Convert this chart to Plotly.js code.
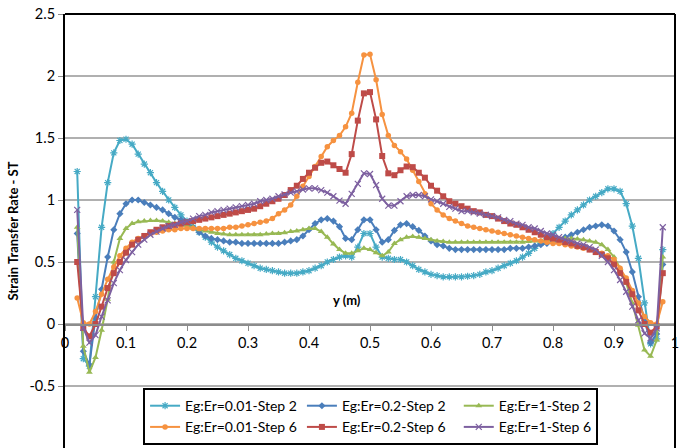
<!DOCTYPE html>
<html><head><meta charset="utf-8">
<script src="https://cdn.plot.ly/plotly-3.0.1.min.js"></script>
<style>html,body{margin:0;padding:0;background:#fff}#chart{width:683px;height:448px}</style>
</head><body><div id="chart"></div>
<script>
const yPositions = [0.02,0.03,0.04,0.05,0.06,0.07,0.08,0.09,0.10,0.11,
0.12,0.13,0.14,0.15,0.16,0.17,0.18,0.19,0.20,0.21,
0.22,0.23,0.24,0.25,0.26,0.27,0.28,0.29,0.30,0.31,
0.32,0.33,0.34,0.35,0.36,0.37,0.38,0.39,0.40,0.41,
0.42,0.43,0.44,0.45,0.46,0.47,0.48,0.49,0.50,0.51,
0.52,0.53,0.54,0.55,0.56,0.57,0.58,0.59,0.60,0.61,
0.62,0.63,0.64,0.65,0.66,0.67,0.68,0.69,0.70,0.71,
0.72,0.73,0.74,0.75,0.76,0.77,0.78,0.79,0.80,0.81,
0.82,0.83,0.84,0.85,0.86,0.87,0.88,0.89,0.90,0.91,
0.92,0.93,0.94,0.95,0.96,0.97,0.98];

const st_001_step2 = [1.23,-0.28,-0.34,0.22,0.78,1.14,1.38,1.48,1.49,1.45,
1.37,1.29,1.22,1.14,1.07,1.00,0.94,0.88,0.83,0.78,
0.74,0.70,0.66,0.62,0.59,0.56,0.53,0.51,0.49,0.47,
0.45,0.44,0.43,0.42,0.41,0.41,0.41,0.42,0.43,0.45,
0.47,0.50,0.52,0.54,0.55,0.54,0.62,0.73,0.73,0.62,
0.54,0.53,0.52,0.52,0.50,0.47,0.44,0.42,0.40,0.39,
0.38,0.38,0.38,0.38,0.385,0.39,0.40,0.42,0.43,0.45,
0.47,0.49,0.51,0.54,0.57,0.61,0.65,0.69,0.73,0.78,
0.83,0.88,0.92,0.96,1.00,1.03,1.06,1.09,1.09,1.07,
0.97,0.79,0.53,0.17,-0.16,-0.12,0.60];

const st_02_step2 = [0.73,-0.22,-0.33,0.05,0.28,0.54,0.76,0.89,0.97,1.00,
1.00,0.98,0.96,0.94,0.92,0.89,0.86,0.84,0.81,0.78,
0.74,0.71,0.69,0.68,0.67,0.66,0.66,0.65,0.65,0.65,
0.65,0.65,0.65,0.65,0.66,0.67,0.68,0.71,0.76,0.81,
0.84,0.85,0.83,0.785,0.69,0.68,0.76,0.84,0.84,0.76,
0.66,0.68,0.755,0.80,0.81,0.785,0.755,0.71,0.67,0.64,
0.63,0.61,0.60,0.60,0.60,0.60,0.60,0.60,0.60,0.60,
0.60,0.61,0.61,0.61,0.62,0.63,0.64,0.65,0.66,0.68,
0.70,0.72,0.74,0.76,0.78,0.79,0.80,0.79,0.75,0.68,
0.58,0.42,0.22,0.03,-0.15,-0.08,0.48];

const st_1_step2 = [0.78,-0.18,-0.39,-0.27,-0.05,0.20,0.50,0.69,0.77,0.81,
0.825,0.83,0.835,0.835,0.83,0.82,0.81,0.80,0.79,0.78,
0.76,0.75,0.74,0.73,0.725,0.72,0.72,0.72,0.72,0.72,
0.72,0.725,0.73,0.73,0.735,0.745,0.75,0.76,0.77,0.77,
0.745,0.70,0.645,0.60,0.57,0.57,0.59,0.61,0.60,0.575,
0.55,0.58,0.65,0.68,0.70,0.705,0.70,0.69,0.68,0.67,
0.665,0.66,0.66,0.66,0.66,0.66,0.66,0.66,0.66,0.66,
0.66,0.66,0.66,0.66,0.665,0.67,0.67,0.675,0.68,0.685,
0.69,0.69,0.685,0.68,0.67,0.66,0.64,0.60,0.54,0.45,
0.33,0.17,-0.01,-0.21,-0.26,-0.13,0.54];

const st_001_step6 = [0.21,0.01,0.00,0.10,0.24,0.36,0.46,0.55,0.61,0.66,
0.69,0.71,0.73,0.74,0.75,0.76,0.76,0.77,0.77,0.77,
0.77,0.77,0.77,0.77,0.77,0.78,0.78,0.79,0.80,0.81,
0.82,0.83,0.85,0.89,0.92,0.96,1.03,1.11,1.19,1.27,
1.35,1.43,1.48,1.52,1.59,1.70,1.95,2.17,2.175,1.97,
1.69,1.52,1.44,1.39,1.33,1.24,1.15,1.05,0.97,0.92,
0.88,0.85,0.83,0.81,0.79,0.78,0.77,0.76,0.75,0.74,
0.73,0.72,0.71,0.70,0.69,0.68,0.67,0.66,0.65,0.65,
0.64,0.63,0.62,0.61,0.60,0.59,0.57,0.55,0.52,0.45,
0.37,0.27,0.17,0.06,0.01,0.00,0.18];

const st_02_step6 = [0.50,-0.03,-0.10,0.00,0.14,0.29,0.41,0.50,0.575,0.64,
0.68,0.71,0.74,0.76,0.78,0.79,0.80,0.81,0.82,0.83,
0.84,0.85,0.86,0.87,0.88,0.89,0.90,0.91,0.92,0.93,
0.95,0.97,0.99,1.01,1.04,1.08,1.115,1.17,1.22,1.26,
1.30,1.31,1.28,1.25,1.22,1.37,1.64,1.86,1.87,1.65,
1.355,1.215,1.20,1.24,1.27,1.265,1.22,1.18,1.115,1.075,
1.03,0.99,0.97,0.95,0.93,0.91,0.90,0.88,0.87,0.85,
0.83,0.81,0.80,0.78,0.76,0.74,0.72,0.70,0.69,0.68,
0.66,0.65,0.63,0.62,0.60,0.58,0.56,0.53,0.48,0.41,
0.34,0.24,0.11,0.00,-0.07,-0.02,0.41];

const st_1_step6 = [0.92,-0.03,-0.15,-0.09,0.06,0.19,0.33,0.435,0.516,0.58,
0.64,0.68,0.72,0.745,0.77,0.79,0.80,0.82,0.83,0.85,
0.87,0.88,0.90,0.91,0.92,0.93,0.94,0.95,0.96,0.97,
0.99,1.00,1.01,1.03,1.045,1.06,1.07,1.085,1.094,1.094,
1.08,1.06,1.03,0.995,0.97,1.05,1.13,1.215,1.21,1.12,
1.01,0.955,0.955,0.99,1.03,1.04,1.04,1.03,1.005,0.99,
0.97,0.945,0.93,0.91,0.91,0.90,0.89,0.88,0.87,0.86,
0.84,0.83,0.81,0.80,0.78,0.77,0.75,0.73,0.72,0.70,
0.68,0.67,0.65,0.64,0.62,0.60,0.55,0.50,0.435,0.355,
0.26,0.14,0.03,-0.075,-0.115,-0.035,0.78];

const seriesNames = ["Eg:Er=0.01-Step 2","Eg:Er=0.2-Step 2","Eg:Er=1-Step 2",
                     "Eg:Er=0.01-Step 6","Eg:Er=0.2-Step 6","Eg:Er=1-Step 6"];
const seriesValues = [st_001_step2, st_02_step2, st_1_step2, st_001_step6, st_02_step6, st_1_step6];
const seriesColors = ["#46AAC5","#4A7EBB","#98B954","#F69240","#BE4B48","#7D60A0"];
const seriesSymbols = ["asterisk-open","diamond","triangle-up","circle","square","x-thin-open"];
const seriesSizes = [6,5.5,6,5.5,6,6];

const xTickVals = [0,0.1,0.2,0.3,0.4,0.5,0.6,0.7,0.8,0.9,1];
const xTickText = ["0","0.1","0.2","0.3","0.4","0.5","0.6","0.7","0.8","0.9","1"];
const yTickVals = [-1,-0.5,0,0.5,1,1.5,2,2.5];
const yTickText = ["-1","-0.5","0","0.5","1","1.5","2","2.5"];

const FONT = "Lato, 'Open Sans', sans-serif";

const traces = seriesValues.map((vals, i) => {
  const open = seriesSymbols[i].indexOf("open") >= 0;
  return {
    type: "scatter", mode: "lines+markers",
    x: yPositions, y: vals, name: seriesNames[i],
    line: {color: seriesColors[i], width: 2},
    marker: {symbol: seriesSymbols[i], size: seriesSizes[i], color: seriesColors[i],
             line: {color: seriesColors[i], width: open ? 1.2 : 0}}
  };
});

const layout = {
  width: 683, height: 448,
  margin: {l: 65, r: 8, t: 14, b: 0, autoexpand: false},
  paper_bgcolor: "#fff", plot_bgcolor: "#fff",
  font: {family: FONT, size: 14, color: "#000"},
  showlegend: true,
  xaxis: {
    range: [0, 1], anchor: "free", position: 0.2857, automargin: false,
    tickvals: xTickVals, ticktext: xTickText,
    showgrid: false, zeroline: false,
    showline: true, linecolor: "#8C8C8C", linewidth: 1.5,
    ticks: "outside", ticklen: 5, tickcolor: "#8C8C8C", tickwidth: 1,
    tickfont: {family: FONT, size: 14.5, color: "#000"}
  },
  yaxis: {
    range: [-1, 2.5], automargin: false,
    tickvals: yTickVals, ticktext: yTickText,
    showgrid: true, gridcolor: "#B0B0B0", gridwidth: 1.5,
    zeroline: false,
    showline: true, linecolor: "#000", linewidth: 2,
    ticks: "outside", ticklen: 5, tickcolor: "#8C8C8C",
    tickfont: {family: FONT, size: 14.5, color: "#000"},
    title: {text: "Strain Transfer Rate - ST", font: {family: FONT, size: 13, color: "#000", weight: "bold"}, standoff: 8}
  },
  legend: {
    orientation: "h", x: 0.128, y: 0.138, xanchor: "left", yanchor: "top",
    bgcolor: "#fff", bordercolor: "#000", borderwidth: 2,
    font: {family: FONT, size: 14, color: "#000"},
    itemwidth: 30, tracegroupgap: 0
  },
  annotations: [{
    text: "y (m)", x: 0.462, y: 0.19, xref: "x", yref: "y", showarrow: false,
    font: {family: FONT, size: 13, color: "#000", weight: "bold"}
  }],
  shapes: [
    {type: "line", xref: "paper", yref: "paper", x0: 0, x1: 1, y0: 1, y1: 1, line: {color: "#000", width: 2}},
    {type: "line", xref: "paper", yref: "paper", x0: 1, x1: 1, y0: 0, y1: 1, line: {color: "#000", width: 2}}
  ]
};

Plotly.newPlot("chart", traces, layout, {displayModeBar: false, staticPlot: true});
</script></body></html>
